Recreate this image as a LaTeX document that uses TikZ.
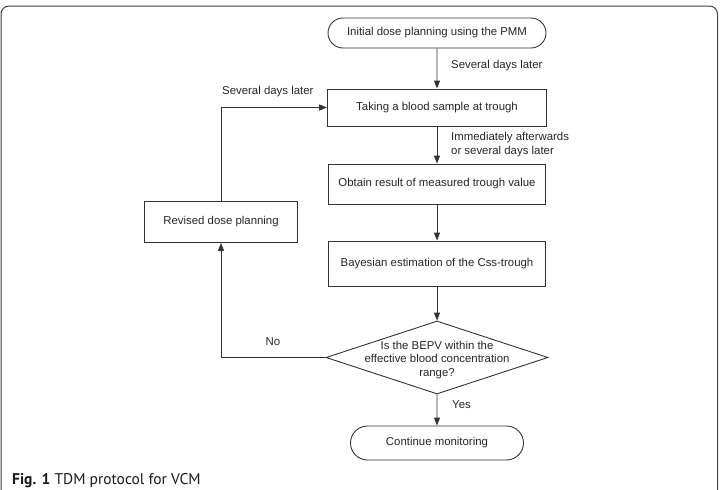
\documentclass[tikz,border=0pt]{standalone}
\usepackage{fontspec}
\setmainfont{Liberation Sans}
\newfontfamily\capfont{PT Sans}
\usetikzlibrary{shapes.geometric,shapes.misc,arrows.meta}
\newcommand\fs{\fontsize{11.4}{13.3}\selectfont}
\begin{document}
\begin{tikzpicture}[x=1pt,y=-1pt,
  line/.style={draw=black!80, line width=0.9pt},
  arr/.style={line, -{Triangle[length=8pt,width=6pt]}},
  box/.style={line, rectangle, inner sep=0pt, font=\fs, text=black!85},
  term/.style={line, rounded rectangle, inner sep=0pt, font=\fs, text=black!85},
  decision/.style={line, diamond, inner sep=0pt, minimum width=222pt, minimum height=73pt},
  lbl/.style={font=\fs, text=black!85, inner sep=0pt},
]
\useasboundingbox (0,0) rectangle (721,490);
\draw[black!75, line width=1pt, rounded corners=8pt] (1,6) rectangle (717.5,510);

\node[term, minimum width=218pt, minimum height=30pt] (start) at (437,33) {Initial dose planning using the PMM};
\node[box, minimum width=219pt, minimum height=37pt] (b1) at (437,107.5) {Taking a blood sample at trough};
\node[box, minimum width=217pt, minimum height=40pt] (b2) at (437,184) {Obtain result of measured trough value};
\node[box, minimum width=217pt, minimum height=45pt] (b3) at (437,263.5) {Bayesian estimation of the Css-trough};
\node[decision] (dec) at (437,357.5) {};
\node[lbl, align=center] (dect) at (437,360) {Is the BEPV within the\\effective blood concentration\\range?};
\node[term, minimum width=173pt, minimum height=34pt] (end) at (437,443) {Continue monitoring};
\node[box, minimum width=153pt, minimum height=41pt] (rev) at (221,222) {Revised dose planning};

\draw[arr] (start) -- (b1);
\draw[arr] (b1) -- (b2);
\draw[arr] (b2) -- (b3);
\draw[arr] (b3) -- (dec);
\draw[arr] (dec) -- (end);
\draw[arr] (dec.west) -| (rev.south);
\draw[arr] (rev.north) |- (b1.west);

\node[lbl, anchor=west] (l1) at (451,66) {Several days later};
\node[lbl, anchor=west, align=left] (l2) at (451,144.5) {Immediately afterwards\\or several days later};
\node[lbl, anchor=west] (l3) at (222,92) {Several days later};
\node[lbl] (l4) at (273,342) {No};
\node[lbl, anchor=west] (l5) at (452,405) {Yes};

\node[anchor=base west, inner sep=0pt, font=\capfont\fontsize{15.5}{18}\selectfont, text=black!90] (cap) at (12,484) {\textbf{Fig. 1} TDM protocol for VCM};
\end{tikzpicture}
\end{document}
